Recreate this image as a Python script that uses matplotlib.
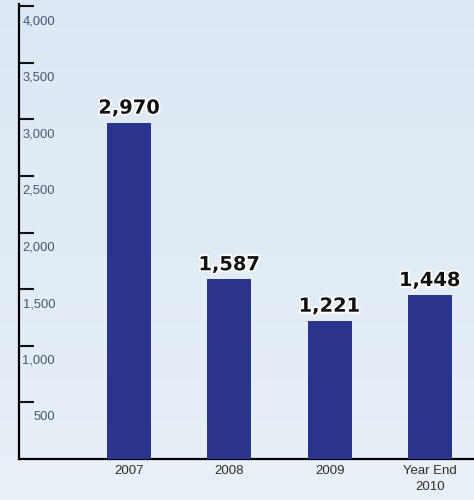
import numpy as np
import matplotlib
matplotlib.use("Agg")
import matplotlib.pyplot as plt
import matplotlib.patheffects as pe

categories = ["2007", "2008", "2009", "Year End\n2010"]
values = [2970, 1587, 1221, 1448]
value_labels = ["2,970", "1,587", "1,221", "1,448"]
yticks = [500, 1000, 1500, 2000, 2500, 3000, 3500, 4000]
ytick_labels = ["500", "1,000", "1,500", "2,000", "2,500", "3,000", "3,500", "4,000"]

BAR = "#2a348c"
TICK_C = "#4a5272"
NARROW = ["Liberation Sans Narrow", "Liberation Sans", "DejaVu Sans"]

fig = plt.figure(figsize=(4.74, 5.0), dpi=100)

# soft blue backdrop, slightly darker near the top
bg = fig.add_axes([0, 0, 1, 1], zorder=-1)
grad = np.linspace(0, 1, 200)[:, None]
top = np.array([0.86, 0.91, 0.955]); bot = np.array([0.91, 0.94, 0.97])
img = top[None, None, :] * (1 - grad[:, :, None]) + bot[None, None, :] * grad[:, :, None]
bg.imshow(img, aspect="auto", extent=[0, 1, 0, 1])
bg.axis("off")

ax = fig.add_axes([19 / 474, 41 / 500, 455 / 474, 453 / 500])
ax.patch.set_alpha(0)
x = np.arange(len(categories))
ax.bar(x, values, width=0.44, color=BAR, zorder=3)
ax.set_xlim(-1.097, 3.44)
ax.set_ylim(0, 4000)

for s in ("top", "right"):
    ax.spines[s].set_visible(False)
ax.spines["left"].set_linewidth(1.6)
ax.spines["bottom"].set_linewidth(1.6)
ax.spines["left"].set_bounds(0, 4020)

ax.set_yticks(yticks)
ax.set_yticklabels([])
ax.tick_params(axis="y", direction="in", length=11, width=1.5, color="#111111")
ax.set_xticks([])

for v, lbl in zip(yticks, ytick_labels):
    ax.annotate(lbl, xy=(0, v), xycoords=("axes fraction", "data"),
                xytext=(36, -15), textcoords="offset pixels",
                ha="right", va="center", fontsize=9.3, color=TICK_C, family=NARROW)

for xi, cat in zip(x, categories):
    ax.annotate(cat, xy=(xi, 0), xycoords="data", xytext=(0, -6), textcoords="offset pixels",
                ha="center", va="top", fontsize=9.5, color="#2e2e2e", family=NARROW,
                linespacing=1.45, annotation_clip=False)

for xi, v, lbl in zip(x, values, value_labels):
    ax.annotate(lbl, xy=(xi, v), xytext=(0, 5), textcoords="offset pixels",
                ha="center", va="bottom", fontsize=14, fontweight="heavy", color="#111111",
                path_effects=[pe.withStroke(linewidth=2.5, foreground="white")], zorder=4)

fig.savefig("out.png", dpi=100)
